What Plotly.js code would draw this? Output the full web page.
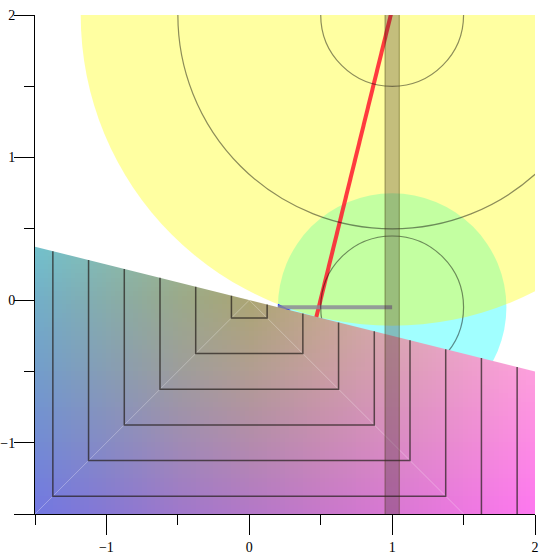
<!DOCTYPE html>
<html>
<head>
<meta charset="utf-8">
<script src="https://cdn.plot.ly/plotly-3.0.1.min.js"></script>
<style>
    html, body { margin: 0; padding: 0; background: #fff; }
    #chart { width: 556px; height: 559px; }
</style>
</head>
<body>
<div id="chart"></div>
<script>
// ---- data ----

// colour grid of the shaded region (rows bottom to top)
const gridX = [-1.5, -1, -0.5, 0, 0.5, 1, 1.5, 2];
const gridY = [-1.5, -1, -0.5, 0, 0.5];
const gridRows = [
    ['rgb(115,120,225)', 'rgb(135,120,212)', 'rgb(160,120,203)', 'rgb(180,120,200)', 'rgb(200,120,203)', 'rgb(218,120,212)', 'rgb(237,120,225)', 'rgb(255,120,240)'],
    ['rgb(115,140,212)', 'rgb(135,140,195)', 'rgb(160,140,180)', 'rgb(180,140,172)', 'rgb(200,140,180)', 'rgb(218,140,195)', 'rgb(237,140,212)', 'rgb(255,140,230)'],
    ['rgb(115,158,203)', 'rgb(135,158,180)', 'rgb(158,158,155)', 'rgb(178,158,145)', 'rgb(200,158,160)', 'rgb(218,158,182)', 'rgb(237,158,203)', 'rgb(255,160,222)'],
    ['rgb(115,176,200)', 'rgb(135,174,170)', 'rgb(155,170,138)', 'rgb(172,166,115)', 'rgb(195,170,140)', 'rgb(218,176,175)', 'rgb(237,178,200)', 'rgb(255,180,220)'],
    ['rgb(115,200,205)', 'rgb(135,195,180)', 'rgb(155,190,150)', 'rgb(172,186,135)', 'rgb(195,190,150)', 'rgb(218,195,180)', 'rgb(237,198,203)', 'rgb(255,200,222)']
];

// outline of the shaded region (slanted top edge)
const regionX = [-1.5, 2, 2, -1.5];
const regionY = [0.375, -0.5, -1.6, -1.6];

// square contour levels inside the shaded region
const contourLevels = [0.125, 0.375, 0.625, 0.875, 1.125, 1.375, 1.625, 1.875];
const seamX = [-1.6, 0, 2.1];
const seamY = [-1.6, 0, -2.1];

// filled discs: cyan then yellow
const discX = [1, 1];
const discY = [-0.05, 2];
const discR = [0.8, 2.18];

// outline-only circles
const ringX = [1, 1, 1];
const ringY = [2, 2, -0.05];
const ringR = [0.5, 1.5, 0.5];

// lines and bars
const redX = [0.40, 1.015];
const redY = [-0.4, 2.1];
const spokeX = [0.2, 1.0];
const spokeY = [-0.05, -0.05];
const wedgeX = [0.2, 0.29, 0.2];
const wedgeY = [-0.025, -0.07, -0.12];
const barX = [0.95, 1.05];
const barY = [-1.6, 2.1];

// axis ticks
const yTickVals = [-1.5, -1, 0, 1, 2];
const yTickText = ['', '\u22121', '0', '1', '2'];

// ---- helpers ----

// tiny picture of the colour grid, the browser smooths it when stretched
function gridSource() {
    const canvas = document.createElement('canvas');
    canvas.width = gridX.length;
    canvas.height = gridY.length;
    const ctx = canvas.getContext('2d');
    gridRows.forEach((row, j) => {
        row.forEach((c, i) => {
            ctx.fillStyle = c;
            ctx.fillRect(i, j, 1, 1);
        });
    });
    return canvas.toDataURL('image/png');
}

// y of the slanted top edge at a given x
function edgeAt(x) {
    const t = (x - regionX[0]) / (regionX[1] - regionX[0]);
    return regionY[0] + t * (regionY[1] - regionY[0]);
}

function circleShape(cx, cy, r, extra) {
    return Object.assign({
        type: 'circle', xref: 'x', yref: 'y', layer: 'below',
        x0: cx - r, x1: cx + r, y0: cy - r, y1: cy + r
    }, extra);
}

function pathFrom(xs, ys, close) {
    return xs.map((x, i) => (i ? 'L' : 'M') + x + ',' + ys[i]).join(' ') + (close ? ' Z' : '');
}

// ---- traces ----

const traces = [];

traces.push({
    type: 'image',
    source: gridSource(),
    x0: gridX[0],
    dx: gridX[1] - gridX[0],
    y0: gridY[0],
    dy: gridY[1] - gridY[0],
    zsmooth: 'fast',
    hoverinfo: 'skip'
});

// faint seams along the lower diagonals
traces.push({
    type: 'scatter', mode: 'lines',
    x: seamX, y: seamY,
    line: { color: 'rgba(255,255,255,0.3)', width: 1 },
    hoverinfo: 'skip'
});

contourLevels.forEach(s => {
    traces.push({
        type: 'scatter', mode: 'lines',
        x: [-s, -s, s, s],
        y: [edgeAt(-s), -s, -s, edgeAt(s)],
        line: { color: 'rgba(35,30,25,0.7)', width: 1.5 },
        hoverinfo: 'skip'
    });
});

// ---- shapes ----

const shapes = [];

shapes.push(circleShape(discX[0], discY[0], discR[0], {
    fillcolor: 'rgba(0,255,255,0.37)', line: { width: 0 }
}));
shapes.push(circleShape(discX[1], discY[1], discR[1], {
    fillcolor: 'rgba(255,255,0,0.37)', line: { width: 0 }
}));

shapes.push({
    type: 'line', xref: 'x', yref: 'y', layer: 'below',
    x0: redX[0], y0: redY[0], x1: redX[1], y1: redY[1],
    line: { color: 'rgba(255,25,45,0.85)', width: 4 }
});

shapes.push({
    type: 'path', xref: 'x', yref: 'y', layer: 'below',
    path: pathFrom(wedgeX, wedgeY, true),
    fillcolor: 'rgb(30,40,255)', line: { width: 0 }
});

shapes.push({
    type: 'line', xref: 'x', yref: 'y', layer: 'below',
    x0: spokeX[0], y0: spokeY[0], x1: spokeX[1], y1: spokeY[1],
    line: { color: 'rgba(140,140,150,0.85)', width: 4 }
});

ringR.forEach((r, i) => {
    shapes.push(circleShape(ringX[i], ringY[i], r, {
        fillcolor: 'rgba(0,0,0,0)',
        line: { color: 'rgba(0,0,0,0.45)', width: 1.2 }
    }));
});

shapes.push({
    type: 'rect', xref: 'x', yref: 'y', layer: 'above',
    x0: barX[0], x1: barX[1], y0: barY[0], y1: barY[1],
    fillcolor: 'rgba(60,40,40,0.3)',
    line: { color: 'rgba(60,50,0,0.45)', width: 1 }
});

// ---- layout ----

const axisStyle = {
    range: [-1.5, 2],
    showgrid: false,
    zeroline: false,
    showline: true,
    linecolor: 'black',
    linewidth: 1,
    ticks: 'outside',
    ticklen: 20,
    tickwidth: 1,
    tickcolor: 'black',
    tick0: 0,
    dtick: 1,
    minor: { tickmode: 'linear', tick0: 0, dtick: 0.5, ticks: 'outside', ticklen: 10, tickwidth: 1, tickcolor: 'black', showgrid: false },
    constrain: 'range',
    fixedrange: true
};

const layout = {
    width: 556,
    height: 559,
    margin: { l: 35, r: 21, t: 15, b: 45, pad: 0 },
    paper_bgcolor: 'white',
    plot_bgcolor: 'white',
    showlegend: false,
    font: { family: '"Liberation Serif", "Times New Roman", serif', size: 14, color: 'black' },
    xaxis: Object.assign({}, axisStyle),
    yaxis: Object.assign({}, axisStyle, {
        scaleanchor: false,
        tickmode: 'array',
        tickvals: yTickVals,
        ticktext: yTickText,
        ticklabelstandoff: -4
    }),
    shapes: shapes
};

const gd = document.getElementById('chart');

Plotly.newPlot(gd, traces, layout, { staticPlot: true }).then(() => {
    // clip the shaded picture to its slanted outline
    const xa = gd._fullLayout.xaxis;
    const ya = gd._fullLayout.yaxis;
    const img = gd.querySelector('.cartesianlayer image');
    const defs = gd.querySelector('.main-svg defs');
    if (!img || !defs) return;
    const ns = 'http://www.w3.org/2000/svg';
    const clip = document.createElementNS(ns, 'clipPath');
    clip.setAttribute('id', 'region-clip');
    clip.setAttribute('clipPathUnits', 'userSpaceOnUse');
    const p = document.createElementNS(ns, 'path');
    p.setAttribute('d', pathFrom(regionX.map(x => xa.c2p(x)), regionY.map(y => ya.c2p(y)), true));
    clip.appendChild(p);
    defs.appendChild(clip);
    img.parentNode.setAttribute('clip-path', 'url(#region-clip)');
});
</script>
</body>
</html>
